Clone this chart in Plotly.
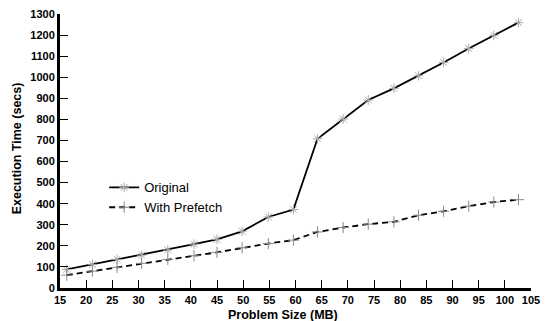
import plotly.graph_objects as go

problem_size = [16.3, 21.2, 25.9, 30.6, 35.6, 40.6, 45.0, 49.8, 54.8, 59.6, 64.2, 69.1, 73.9,
                78.8, 83.5, 88.3, 93.1, 97.9, 102.6]
original = [88, 112, 136, 156, 180, 208, 231, 269, 337, 372, 708, 802, 892,
            947, 1007, 1070, 1136, 1199, 1259]
prefetch = [61, 80, 98, 117, 136, 153, 169, 191, 211, 227, 266, 287, 303,
            314, 345, 364, 388, 408, 419]

x_ticks = list(range(15, 106, 5))
y_ticks = list(range(0, 1301, 100))

fig = go.Figure()
fig.add_trace(go.Scatter(
    x=problem_size, y=original, name="Original", mode="lines+markers",
    line=dict(color="black", width=1.8),
    marker=dict(symbol="asterisk-open", size=8, color="#aaaaaa", line=dict(width=1, color="#aaaaaa")),
))
fig.add_trace(go.Scatter(
    x=problem_size, y=prefetch, name="With Prefetch", mode="lines+markers",
    line=dict(color="black", width=1.8, dash="6px,4px"),
    marker=dict(symbol="cross-thin-open", size=8, color="#888888", line=dict(width=1, color="#888888")),
))

axis_font = dict(family="Liberation Sans, Arial, sans-serif", size=11, color="black", weight="bold")
fig.update_xaxes(range=[15, 105], tickvals=x_ticks, ticks="inside", ticklen=8, tickwidth=1,
                 tickcolor="black", showline=True, linewidth=3, linecolor="black",
                 showgrid=False, zeroline=False, tickfont=axis_font, ticklabeloverflow="allow")
fig.update_yaxes(range=[0, 1300], tickvals=y_ticks, ticks="inside", ticklen=8, tickwidth=1,
                 tickcolor="black", showline=True, linewidth=3, linecolor="black",
                 showgrid=False, zeroline=False, tickfont=axis_font, ticklabeloverflow="allow")

title_font = dict(family="Liberation Sans, Arial, sans-serif", size=12.5, color="black", weight="bold")
fig.add_annotation(text="Problem Size (MB)", xref="paper", yref="paper", x=(287 - 60) / 480,
                   y=-(315 - 288) / 275, showarrow=False, font=title_font,
                   xanchor="center", yanchor="middle")
fig.add_annotation(text="Execution Time (secs)", xref="paper", yref="paper", x=-(60 - 16) / 480,
                   y=(288 - 148) / 275, showarrow=False, font=title_font, textangle=-90,
                   xanchor="center", yanchor="middle")

fig.update_layout(
    width=548, height=321,
    margin=dict(l=60, r=8, t=13, b=33),
    plot_bgcolor="white", paper_bgcolor="white",
    showlegend=True,
    legend=dict(x=(105 - 60) / 480, y=(288 - 172) / 275, xanchor="left", yanchor="top",
                bgcolor="rgba(0,0,0,0)",
                font=dict(family="Liberation Sans, Arial, sans-serif", size=13, color="black"),
                tracegroupgap=0, itemwidth=30),
)

fig.write_html("out.html", config={"displayModeBar": False},
               post_script="document.body.style.margin='0';")
